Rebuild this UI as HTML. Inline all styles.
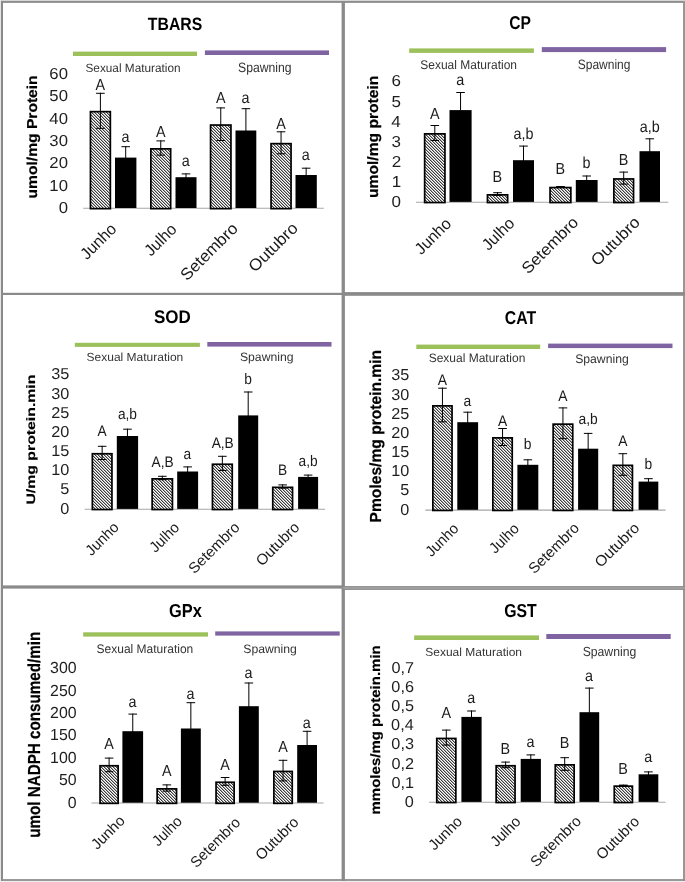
<!DOCTYPE html><html><head><meta charset="utf-8"><title>Oxidative stress biomarkers</title><style>html,body{margin:0;padding:0;background:#fff;width:685px;height:882px;overflow:hidden}text{font-family:"Liberation Sans",sans-serif;text-rendering:geometricPrecision}</style></head><body><svg width="685" height="882" viewBox="0 0 685 882" style="will-change:transform;display:block;font-family:'Liberation Sans', sans-serif"><defs><pattern id="hatch" patternUnits="userSpaceOnUse" x="0" y="0" width="3" height="3"><rect x="0" y="0" width="1" height="1" fill="#3c3c3c"/><rect x="1" y="0" width="1" height="1" fill="#ababab"/><rect x="2" y="0" width="1" height="1" fill="#ffffff"/><rect x="0" y="1" width="1" height="1" fill="#ffffff"/><rect x="1" y="1" width="1" height="1" fill="#3c3c3c"/><rect x="2" y="1" width="1" height="1" fill="#ababab"/><rect x="0" y="2" width="1" height="1" fill="#ababab"/><rect x="1" y="2" width="1" height="1" fill="#ffffff"/><rect x="2" y="2" width="1" height="1" fill="#3c3c3c"/></pattern></defs><rect x="0" y="0" width="685" height="882" fill="#ffffff"/>
<rect x="0" y="0" width="685" height="1" fill="#d6d6d6"/>
<rect x="0" y="0" width="1" height="882" fill="#e6e6e6"/>
<rect x="0" y="881" width="685" height="1" fill="#eeeeee"/>
<rect x="1" y="1" width="684" height="1.9" fill="#8e8e8e"/>
<rect x="1" y="1" width="2" height="880" fill="#8a8a8a"/>
<rect x="683" y="1" width="2" height="880" fill="#979797"/>
<rect x="1" y="879.1" width="684" height="1.8" fill="#8e8e8e"/>
<rect x="341.6" y="1" width="3.3" height="880" fill="#8a8a8a"/>
<rect x="1" y="292.8" width="342" height="2.2" fill="#8a8a8a"/>
<rect x="1" y="585.4" width="342" height="3.2" fill="#8a8a8a"/>
<rect x="343" y="292.1" width="342" height="3.7" fill="#8a8a8a"/>
<rect x="343" y="586.1" width="342" height="3.8" fill="#8a8a8a"/>
<rect x="343" y="587.5" width="342" height="1" fill="#b4b4b4"/>
<text transform="matrix(0.79 0 0 0.89 147.84 29.72)" font-size="20" font-weight="bold" fill="#000">TBARS</text>
<rect x="73" y="51.6" width="124" height="4.4" fill="#9cc05a"/>
<rect x="204.9" y="50.4" width="124.1" height="4.6" fill="#8064a2"/>
<text transform="matrix(0.59 0 0 0.6 85.46 71.7)" font-size="20" font-weight="normal" fill="#333333">Sexual Maturation</text>
<text transform="matrix(0.61 0 0 0.68 238.05 72.4)" font-size="20" font-weight="normal" fill="#333333">Spawning</text>
<text stroke="#000" stroke-width="0.25" transform="matrix(0 -0.78 0.72 0 36.51 198.43)" font-size="20" font-weight="bold" fill="#000">umol/mg Protein</text>
<text transform="matrix(1.05 0 0 1 58.63 213.11)" font-size="15.92" font-weight="normal" fill="#1e1e1e">0</text>
<text transform="matrix(1.05 0 0 1 49.37 190.74)" font-size="15.92" font-weight="normal" fill="#1e1e1e">10</text>
<text transform="matrix(1.05 0 0 1 49.37 168.37)" font-size="15.92" font-weight="normal" fill="#1e1e1e">20</text>
<text transform="matrix(1.05 0 0 1 49.37 146)" font-size="15.92" font-weight="normal" fill="#1e1e1e">30</text>
<text transform="matrix(1.05 0 0 1 49.37 123.63)" font-size="15.92" font-weight="normal" fill="#1e1e1e">40</text>
<text transform="matrix(1.05 0 0 1 49.37 101.26)" font-size="15.92" font-weight="normal" fill="#1e1e1e">50</text>
<text transform="matrix(1.05 0 0 1 49.37 78.89)" font-size="15.92" font-weight="normal" fill="#1e1e1e">60</text>
<line x1="83.3" y1="208.3" x2="323.8" y2="208.3" stroke="#a6a6a6" stroke-width="1.1"/>
<rect x="90.45" y="111.65" width="19.9" height="97" fill="url(#hatch)" stroke="#000" stroke-width="1.7"/>
<path d="M100.4 92.8V128.8M96.1 93.3H104.7M96.1 128.3H104.7" stroke="#000" stroke-width="1" fill="none"/>
<text transform="matrix(0.9 0 0 1 95.59 89.8)" font-size="15.94" font-weight="normal" fill="#1a1a1a">A</text>
<rect x="115" y="157.6" width="21.4" height="50.4" fill="#000"/>
<path d="M125.7 146.2V169M121.4 146.7H130M121.4 168.5H130" stroke="#000" stroke-width="1" fill="none"/>
<text transform="matrix(0.9 0 0 1 121.4 142.2)" font-size="15.94" font-weight="normal" fill="#1a1a1a">a</text>
<rect x="150.85" y="148.85" width="19.8" height="59.8" fill="url(#hatch)" stroke="#000" stroke-width="1.7"/>
<path d="M160.75 140.4V155.6M156.45 140.9H165.05M156.45 155.1H165.05" stroke="#000" stroke-width="1" fill="none"/>
<text transform="matrix(0.9 0 0 1 155.94 137)" font-size="15.94" font-weight="normal" fill="#1a1a1a">A</text>
<rect x="175.5" y="177.2" width="21" height="30.8" fill="#000"/>
<path d="M186 173.4V181M181.7 173.9H190.3M181.7 180.5H190.3" stroke="#000" stroke-width="1" fill="none"/>
<text transform="matrix(0.9 0 0 1 181.7 165.5)" font-size="15.94" font-weight="normal" fill="#1a1a1a">a</text>
<rect x="210.55" y="125.05" width="20.4" height="83.6" fill="url(#hatch)" stroke="#000" stroke-width="1.7"/>
<path d="M220.75 107.4V141M216.45 107.9H225.05M216.45 140.5H225.05" stroke="#000" stroke-width="1" fill="none"/>
<text transform="matrix(0.9 0 0 1 215.94 102.7)" font-size="15.94" font-weight="normal" fill="#1a1a1a">A</text>
<rect x="235.5" y="130.5" width="20.8" height="77.5" fill="#000"/>
<path d="M245.9 108.2V152.8M241.6 108.7H250.2M241.6 152.3H250.2" stroke="#000" stroke-width="1" fill="none"/>
<text transform="matrix(0.9 0 0 1 241.6 102.7)" font-size="15.94" font-weight="normal" fill="#1a1a1a">a</text>
<rect x="271.05" y="143.65" width="20" height="65" fill="url(#hatch)" stroke="#000" stroke-width="1.7"/>
<path d="M281.05 131.3V154.3M276.75 131.8H285.35M276.75 153.8H285.35" stroke="#000" stroke-width="1" fill="none"/>
<text transform="matrix(0.9 0 0 1 276.24 128.9)" font-size="15.94" font-weight="normal" fill="#1a1a1a">A</text>
<rect x="295.5" y="175" width="21.3" height="33" fill="#000"/>
<path d="M306.15 167.7V182.3M301.85 168.2H310.45M301.85 181.8H310.45" stroke="#000" stroke-width="1" fill="none"/>
<text transform="matrix(0.9 0 0 1 301.85 160)" font-size="15.94" font-weight="normal" fill="#1a1a1a">a</text>
<text transform="matrix(0.68 -0.68 0.71 0.71 117.4 230)" font-size="16.4" text-anchor="end" fill="#1a1a1a">Junho</text>
<text transform="matrix(0.68 -0.68 0.71 0.71 177.6 230.4)" font-size="16.4" text-anchor="end" fill="#1a1a1a">Julho</text>
<text transform="matrix(0.73 -0.73 0.71 0.71 238.8 229.6)" font-size="16.4" text-anchor="end" fill="#1a1a1a">Setembro</text>
<text transform="matrix(0.74 -0.74 0.71 0.71 298.9 229.2)" font-size="16.4" text-anchor="end" fill="#1a1a1a">Outubro</text>
<text transform="matrix(0.78 0 0 0.93 509.28 29.41)" font-size="20" font-weight="bold" fill="#000">CP</text>
<rect x="409.2" y="48.4" width="124.7" height="4.5" fill="#9cc05a"/>
<rect x="541.8" y="47.1" width="124.3" height="5" fill="#8064a2"/>
<text transform="matrix(0.6 0 0 0.63 420.26 69.3)" font-size="20" font-weight="normal" fill="#333333">Sexual Maturation</text>
<text transform="matrix(0.6 0 0 0.68 577.76 69.3)" font-size="20" font-weight="normal" fill="#333333">Spawning</text>
<text stroke="#000" stroke-width="0.25" transform="matrix(0 -0.78 0.75 0 377.57 197.94)" font-size="20" font-weight="bold" fill="#000">umol/mg protein</text>
<text transform="matrix(1.07 0 0 1 391.47 207.45)" font-size="15.92" font-weight="normal" fill="#1e1e1e">0</text>
<text transform="matrix(1.07 0 0 1 391.64 187.29)" font-size="15.92" font-weight="normal" fill="#1e1e1e">1</text>
<text transform="matrix(1.07 0 0 1 391.64 167.13)" font-size="15.92" font-weight="normal" fill="#1e1e1e">2</text>
<text transform="matrix(1.07 0 0 1 391.55 146.97)" font-size="15.92" font-weight="normal" fill="#1e1e1e">3</text>
<text transform="matrix(1.07 0 0 1 391.3 126.81)" font-size="15.92" font-weight="normal" fill="#1e1e1e">4</text>
<text transform="matrix(1.07 0 0 1 391.55 106.65)" font-size="15.92" font-weight="normal" fill="#1e1e1e">5</text>
<text transform="matrix(1.07 0 0 1 391.55 86.49)" font-size="15.92" font-weight="normal" fill="#1e1e1e">6</text>
<line x1="415.9" y1="202.2" x2="668.3" y2="202.2" stroke="#a6a6a6" stroke-width="1.1"/>
<rect x="424.65" y="133.85" width="20.3" height="68.7" fill="url(#hatch)" stroke="#000" stroke-width="1.7"/>
<path d="M434.8 125V141M430.5 125.5H439.1M430.5 140.5H439.1" stroke="#000" stroke-width="1" fill="none"/>
<text transform="matrix(0.9 0 0 1 429.99 118.9)" font-size="15.94" font-weight="normal" fill="#1a1a1a">A</text>
<rect x="449.5" y="110.1" width="22.1" height="91.8" fill="#000"/>
<path d="M460.55 92V128.2M456.25 92.5H464.85M456.25 127.7H464.85" stroke="#000" stroke-width="1" fill="none"/>
<text transform="matrix(0.9 0 0 1 456.25 84.6)" font-size="15.94" font-weight="normal" fill="#1a1a1a">a</text>
<rect x="487.45" y="194.85" width="20.2" height="7.7" fill="url(#hatch)" stroke="#000" stroke-width="1.7"/>
<path d="M497.55 192.2V195.8M493.25 192.7H501.85M493.25 195.3H501.85" stroke="#000" stroke-width="1" fill="none"/>
<text transform="matrix(0.9 0 0 1 492.56 181.6)" font-size="15.94" font-weight="normal" fill="#1a1a1a">B</text>
<rect x="513" y="160.2" width="21" height="41.7" fill="#000"/>
<path d="M523.5 145.6V174.8M519.2 146.1H527.8M519.2 174.3H527.8" stroke="#000" stroke-width="1" fill="none"/>
<text transform="matrix(0.9 0 0 1 513.54 139)" font-size="15.94" font-weight="normal" fill="#1a1a1a">a,b</text>
<rect x="550.05" y="187.55" width="20.8" height="15" fill="url(#hatch)" stroke="#000" stroke-width="1.7"/>
<path d="M560.45 186.1V187.3M556.15 186.6H564.75M556.15 186.8H564.75" stroke="#000" stroke-width="1" fill="none"/>
<text transform="matrix(0.9 0 0 1 555.46 174.4)" font-size="15.94" font-weight="normal" fill="#1a1a1a">B</text>
<rect x="575.8" y="180" width="21.8" height="21.9" fill="#000"/>
<path d="M586.7 175.5V184.5M582.4 176H591M582.4 184H591" stroke="#000" stroke-width="1" fill="none"/>
<text transform="matrix(0.9 0 0 1 582.58 167.9)" font-size="15.94" font-weight="normal" fill="#1a1a1a">b</text>
<rect x="613.85" y="178.95" width="19.7" height="23.6" fill="url(#hatch)" stroke="#000" stroke-width="1.7"/>
<path d="M623.7 171.6V184.6M619.4 172.1H628M619.4 184.1H628" stroke="#000" stroke-width="1" fill="none"/>
<text transform="matrix(0.9 0 0 1 618.71 164.6)" font-size="15.94" font-weight="normal" fill="#1a1a1a">B</text>
<rect x="639.5" y="151.2" width="20.5" height="50.7" fill="#000"/>
<path d="M649.75 138.3V164.1M645.45 138.8H654.05M645.45 163.6H654.05" stroke="#000" stroke-width="1" fill="none"/>
<text transform="matrix(0.9 0 0 1 639.79 131.5)" font-size="15.94" font-weight="normal" fill="#1a1a1a">a,b</text>
<text transform="matrix(0.7 -0.7 0.71 0.71 452.2 224.6)" font-size="16.2" text-anchor="end" fill="#1a1a1a">Junho</text>
<text transform="matrix(0.7 -0.7 0.71 0.71 515.5 224.2)" font-size="16.2" text-anchor="end" fill="#1a1a1a">Julho</text>
<text transform="matrix(0.73 -0.73 0.71 0.71 579.4 223.4)" font-size="16.2" text-anchor="end" fill="#1a1a1a">Setembro</text>
<text transform="matrix(0.74 -0.74 0.71 0.71 640.8 223.4)" font-size="16.2" text-anchor="end" fill="#1a1a1a">Outubro</text>
<text transform="matrix(0.85 0 0 0.91 153.98 323.02)" font-size="20" font-weight="bold" fill="#000">SOD</text>
<rect x="74.8" y="342.8" width="125.1" height="4.1" fill="#9cc05a"/>
<rect x="207.3" y="342" width="124.2" height="4.6" fill="#8064a2"/>
<text transform="matrix(0.6 0 0 0.59 86.56 361)" font-size="20" font-weight="normal" fill="#333333">Sexual Maturation</text>
<text transform="matrix(0.61 0 0 0.61 239.95 360.8)" font-size="20" font-weight="normal" fill="#333333">Spawning</text>
<text stroke="#000" stroke-width="0.25" transform="matrix(0 -0.79 0.61 0 34.79 504.55)" font-size="20" font-weight="bold" fill="#000">U/mg protein.min</text>
<text transform="matrix(1.03 0 0 1 60.17 513.53)" font-size="15.77" font-weight="normal" fill="#1e1e1e">0</text>
<text transform="matrix(1.03 0 0 1 60.25 494.36)" font-size="15.77" font-weight="normal" fill="#1e1e1e">5</text>
<text transform="matrix(1.03 0 0 1 51.15 475.19)" font-size="15.77" font-weight="normal" fill="#1e1e1e">10</text>
<text transform="matrix(1.03 0 0 1 51.23 456.02)" font-size="15.77" font-weight="normal" fill="#1e1e1e">15</text>
<text transform="matrix(1.03 0 0 1 51.15 436.85)" font-size="15.77" font-weight="normal" fill="#1e1e1e">20</text>
<text transform="matrix(1.03 0 0 1 51.23 417.68)" font-size="15.77" font-weight="normal" fill="#1e1e1e">25</text>
<text transform="matrix(1.03 0 0 1 51.15 398.51)" font-size="15.77" font-weight="normal" fill="#1e1e1e">30</text>
<text transform="matrix(1.03 0 0 1 51.23 379.34)" font-size="15.77" font-weight="normal" fill="#1e1e1e">35</text>
<line x1="84.7" y1="509.2" x2="325.1" y2="509.2" stroke="#a6a6a6" stroke-width="1.1"/>
<rect x="92.35" y="453.75" width="19.6" height="55.8" fill="url(#hatch)" stroke="#000" stroke-width="1.7"/>
<path d="M102.15 445.8V460M97.85 446.3H106.45M97.85 459.5H106.45" stroke="#000" stroke-width="1" fill="none"/>
<text transform="matrix(0.9 0 0 1 97.56 436.4)" font-size="15.22" font-weight="normal" fill="#1a1a1a">A</text>
<rect x="116.8" y="436" width="21.3" height="72.9" fill="#000"/>
<path d="M127.45 428.7V443.3M123.15 429.2H131.75M123.15 442.8H131.75" stroke="#000" stroke-width="1" fill="none"/>
<text transform="matrix(0.9 0 0 1 117.94 419.3)" font-size="15.22" font-weight="normal" fill="#1a1a1a">a,b</text>
<rect x="152.15" y="478.85" width="20.3" height="30.7" fill="url(#hatch)" stroke="#000" stroke-width="1.7"/>
<path d="M162.3 475.8V480.2M158 476.3H166.6M158 479.7H166.6" stroke="#000" stroke-width="1" fill="none"/>
<text transform="matrix(0.9 0 0 1 151.62 466.9)" font-size="15.22" font-weight="normal" fill="#1a1a1a">A,B</text>
<rect x="177.2" y="471.5" width="20.9" height="37.4" fill="#000"/>
<path d="M187.65 466.4V476.6M183.35 466.9H191.95M183.35 476.1H191.95" stroke="#000" stroke-width="1" fill="none"/>
<text transform="matrix(0.9 0 0 1 183.54 458.8)" font-size="15.22" font-weight="normal" fill="#1a1a1a">a</text>
<rect x="212.45" y="464.25" width="19.8" height="45.3" fill="url(#hatch)" stroke="#000" stroke-width="1.7"/>
<path d="M222.35 455.8V471M218.05 456.3H226.65M218.05 470.5H226.65" stroke="#000" stroke-width="1" fill="none"/>
<text transform="matrix(0.9 0 0 1 211.67 448.1)" font-size="15.22" font-weight="normal" fill="#1a1a1a">A,B</text>
<rect x="238.2" y="415.4" width="20" height="93.5" fill="#000"/>
<path d="M248.2 391.5V439.3M243.9 392H252.5M243.9 438.8H252.5" stroke="#000" stroke-width="1" fill="none"/>
<text transform="matrix(0.9 0 0 1 244.26 384.3)" font-size="15.22" font-weight="normal" fill="#1a1a1a">b</text>
<rect x="272.75" y="487.35" width="19.8" height="22.2" fill="url(#hatch)" stroke="#000" stroke-width="1.7"/>
<path d="M282.65 484.4V488.6M278.35 484.9H286.95M278.35 488.1H286.95" stroke="#000" stroke-width="1" fill="none"/>
<text transform="matrix(0.9 0 0 1 277.89 474.6)" font-size="15.22" font-weight="normal" fill="#1a1a1a">B</text>
<rect x="298.1" y="476.9" width="20" height="32" fill="#000"/>
<path d="M308.1 474.6V479.2M303.8 475.1H312.4M303.8 478.7H312.4" stroke="#000" stroke-width="1" fill="none"/>
<text transform="matrix(0.9 0 0 1 298.59 465.6)" font-size="15.22" font-weight="normal" fill="#1a1a1a">a,b</text>
<text transform="matrix(0.69 -0.69 0.71 0.71 119.8 528.2)" font-size="15" text-anchor="end" fill="#1a1a1a">Junho</text>
<text transform="matrix(0.69 -0.69 0.71 0.71 180.2 528.6)" font-size="15" text-anchor="end" fill="#1a1a1a">Julho</text>
<text transform="matrix(0.71 -0.71 0.71 0.71 240.6 528.2)" font-size="15" text-anchor="end" fill="#1a1a1a">Setembro</text>
<text transform="matrix(0.71 -0.71 0.71 0.71 300.4 528.2)" font-size="15" text-anchor="end" fill="#1a1a1a">Outubro</text>
<text transform="matrix(0.79 0 0 0.93 504.77 323.91)" font-size="20" font-weight="bold" fill="#000">CAT</text>
<rect x="416.3" y="344.6" width="123.9" height="4.4" fill="#9cc05a"/>
<rect x="548.1" y="343.6" width="124.4" height="4.5" fill="#8064a2"/>
<text transform="matrix(0.6 0 0 0.61 428.66 362.3)" font-size="20" font-weight="normal" fill="#333333">Sexual Maturation</text>
<text transform="matrix(0.61 0 0 0.62 575.15 362.6)" font-size="20" font-weight="normal" fill="#333333">Spawning</text>
<text stroke="#000" stroke-width="0.25" transform="matrix(0 -0.78 0.8 0 380.57 522.41)" font-size="20" font-weight="bold" fill="#000">Pmoles/mg protein.min</text>
<text transform="matrix(1.02 0 0 1 400.17 514.51)" font-size="15.92" font-weight="normal" fill="#1e1e1e">0</text>
<text transform="matrix(1.02 0 0 1 400.25 495.35)" font-size="15.92" font-weight="normal" fill="#1e1e1e">5</text>
<text transform="matrix(1.02 0 0 1 391.15 476.19)" font-size="15.92" font-weight="normal" fill="#1e1e1e">10</text>
<text transform="matrix(1.02 0 0 1 391.23 457.03)" font-size="15.92" font-weight="normal" fill="#1e1e1e">15</text>
<text transform="matrix(1.02 0 0 1 391.15 437.87)" font-size="15.92" font-weight="normal" fill="#1e1e1e">20</text>
<text transform="matrix(1.02 0 0 1 391.23 418.71)" font-size="15.92" font-weight="normal" fill="#1e1e1e">25</text>
<text transform="matrix(1.02 0 0 1 391.15 399.55)" font-size="15.92" font-weight="normal" fill="#1e1e1e">30</text>
<text transform="matrix(1.02 0 0 1 391.23 380.39)" font-size="15.92" font-weight="normal" fill="#1e1e1e">35</text>
<line x1="425.3" y1="510.1" x2="665.6" y2="510.1" stroke="#a6a6a6" stroke-width="1.1"/>
<rect x="432.85" y="405.85" width="19.2" height="104.6" fill="url(#hatch)" stroke="#000" stroke-width="1.7"/>
<path d="M442.45 387.7V422.3M438.15 388.2H446.75M438.15 421.8H446.75" stroke="#000" stroke-width="1" fill="none"/>
<text transform="matrix(0.9 0 0 1 437.82 384.5)" font-size="15.36" font-weight="normal" fill="#1a1a1a">A</text>
<rect x="457.3" y="422.2" width="20.8" height="87.6" fill="#000"/>
<path d="M467.7 411.7V432.7M463.4 412.2H472M463.4 432.2H472" stroke="#000" stroke-width="1" fill="none"/>
<text transform="matrix(0.9 0 0 1 463.55 406.2)" font-size="15.36" font-weight="normal" fill="#1a1a1a">a</text>
<rect x="492.85" y="437.85" width="19.4" height="72.6" fill="url(#hatch)" stroke="#000" stroke-width="1.7"/>
<path d="M502.55 428V446M498.25 428.5H506.85M498.25 445.5H506.85" stroke="#000" stroke-width="1" fill="none"/>
<text transform="matrix(0.9 0 0 1 497.92 426.2)" font-size="15.36" font-weight="normal" fill="#1a1a1a">A</text>
<rect x="517.4" y="464.8" width="20.9" height="45" fill="#000"/>
<path d="M527.85 459.3V470.3M523.55 459.8H532.15M523.55 469.8H532.15" stroke="#000" stroke-width="1" fill="none"/>
<text transform="matrix(0.9 0 0 1 523.87 449.2)" font-size="15.36" font-weight="normal" fill="#1a1a1a">b</text>
<rect x="553.15" y="424.15" width="19.6" height="86.3" fill="url(#hatch)" stroke="#000" stroke-width="1.7"/>
<path d="M562.95 407.4V439.2M558.65 407.9H567.25M558.65 438.7H567.25" stroke="#000" stroke-width="1" fill="none"/>
<text transform="matrix(0.9 0 0 1 558.32 401.4)" font-size="15.36" font-weight="normal" fill="#1a1a1a">A</text>
<rect x="578.1" y="448.7" width="20.1" height="61.1" fill="#000"/>
<path d="M588.15 432.9V464.5M583.85 433.4H592.45M583.85 464H592.45" stroke="#000" stroke-width="1" fill="none"/>
<text transform="matrix(0.9 0 0 1 578.55 424.1)" font-size="15.36" font-weight="normal" fill="#1a1a1a">a,b</text>
<rect x="613.25" y="465.35" width="19.2" height="45.1" fill="url(#hatch)" stroke="#000" stroke-width="1.7"/>
<path d="M622.85 453.2V475.8M618.55 453.7H627.15M618.55 475.3H627.15" stroke="#000" stroke-width="1" fill="none"/>
<text transform="matrix(0.9 0 0 1 618.22 446.1)" font-size="15.36" font-weight="normal" fill="#1a1a1a">A</text>
<rect x="638.6" y="481.6" width="19.7" height="28.2" fill="#000"/>
<path d="M648.45 478.2V485M644.15 478.7H652.75M644.15 484.5H652.75" stroke="#000" stroke-width="1" fill="none"/>
<text transform="matrix(0.9 0 0 1 644.48 469.4)" font-size="15.36" font-weight="normal" fill="#1a1a1a">b</text>
<text transform="matrix(0.69 -0.69 0.71 0.71 459.6 529.4)" font-size="15" text-anchor="end" fill="#1a1a1a">Junho</text>
<text transform="matrix(0.69 -0.69 0.71 0.71 520 529.6)" font-size="15" text-anchor="end" fill="#1a1a1a">Julho</text>
<text transform="matrix(0.7 -0.7 0.71 0.71 580.1 529)" font-size="15" text-anchor="end" fill="#1a1a1a">Setembro</text>
<text transform="matrix(0.73 -0.73 0.71 0.71 640.4 528.8)" font-size="15" text-anchor="end" fill="#1a1a1a">Outubro</text>
<text transform="matrix(0.82 0 0 0.94 168.95 616.81)" font-size="20" font-weight="bold" fill="#000">GPx</text>
<rect x="83.2" y="632.3" width="124.8" height="4.3" fill="#9cc05a"/>
<rect x="215.2" y="631.4" width="124.5" height="4.2" fill="#8064a2"/>
<text transform="matrix(0.6 0 0 0.62 96.56 653)" font-size="20" font-weight="normal" fill="#333333">Sexual Maturation</text>
<text transform="matrix(0.61 0 0 0.61 243.26 652.9)" font-size="20" font-weight="normal" fill="#333333">Spawning</text>
<text stroke="#000" stroke-width="0.25" transform="matrix(0 -0.76 0.87 0 40.36 837.81)" font-size="20" font-weight="bold" fill="#000">umol NADPH consumed/min</text>
<text transform="matrix(0.99 0 0 1 67.73 807.59)" font-size="16.06" font-weight="normal" fill="#1e1e1e">0</text>
<text transform="matrix(0.99 0 0 1 58.89 785.19)" font-size="16.06" font-weight="normal" fill="#1e1e1e">50</text>
<text transform="matrix(0.99 0 0 1 50.04 762.79)" font-size="16.06" font-weight="normal" fill="#1e1e1e">100</text>
<text transform="matrix(0.99 0 0 1 50.04 740.39)" font-size="16.06" font-weight="normal" fill="#1e1e1e">150</text>
<text transform="matrix(0.99 0 0 1 50.04 717.99)" font-size="16.06" font-weight="normal" fill="#1e1e1e">200</text>
<text transform="matrix(0.99 0 0 1 50.04 695.59)" font-size="16.06" font-weight="normal" fill="#1e1e1e">250</text>
<text transform="matrix(0.99 0 0 1 50.04 673.19)" font-size="16.06" font-weight="normal" fill="#1e1e1e">300</text>
<line x1="91.4" y1="803" x2="323.6" y2="803" stroke="#a6a6a6" stroke-width="1.1"/>
<rect x="100.05" y="765.75" width="18.1" height="37.6" fill="url(#hatch)" stroke="#000" stroke-width="1.7"/>
<path d="M109.1 757.6V772.2M104.8 758.1H113.4M104.8 771.7H113.4" stroke="#000" stroke-width="1" fill="none"/>
<text transform="matrix(0.9 0 0 1 104.29 749.2)" font-size="15.94" font-weight="normal" fill="#1a1a1a">A</text>
<rect x="122.4" y="731.2" width="20.7" height="71.5" fill="#000"/>
<path d="M132.75 713.6V748.8M128.45 714.1H137.05M128.45 748.3H137.05" stroke="#000" stroke-width="1" fill="none"/>
<text transform="matrix(0.9 0 0 1 128.45 707.1)" font-size="15.94" font-weight="normal" fill="#1a1a1a">a</text>
<rect x="157.15" y="788.85" width="19.4" height="14.5" fill="url(#hatch)" stroke="#000" stroke-width="1.7"/>
<path d="M166.85 784.4V791.6M162.55 784.9H171.15M162.55 791.1H171.15" stroke="#000" stroke-width="1" fill="none"/>
<text transform="matrix(0.9 0 0 1 162.04 776.3)" font-size="15.94" font-weight="normal" fill="#1a1a1a">A</text>
<rect x="180.9" y="728.5" width="19.9" height="74.2" fill="#000"/>
<path d="M190.85 702.2V754.8M186.55 702.7H195.15M186.55 754.3H195.15" stroke="#000" stroke-width="1" fill="none"/>
<text transform="matrix(0.9 0 0 1 186.55 698.7)" font-size="15.94" font-weight="normal" fill="#1a1a1a">a</text>
<rect x="216.05" y="782.25" width="18.1" height="21.1" fill="url(#hatch)" stroke="#000" stroke-width="1.7"/>
<path d="M225.1 777V785.8M220.8 777.5H229.4M220.8 785.3H229.4" stroke="#000" stroke-width="1" fill="none"/>
<text transform="matrix(0.9 0 0 1 220.29 769.5)" font-size="15.94" font-weight="normal" fill="#1a1a1a">A</text>
<rect x="238.9" y="706.2" width="19.9" height="96.5" fill="#000"/>
<path d="M248.85 682.5V729.9M244.55 683H253.15M244.55 729.4H253.15" stroke="#000" stroke-width="1" fill="none"/>
<text transform="matrix(0.9 0 0 1 244.55 677.6)" font-size="15.94" font-weight="normal" fill="#1a1a1a">a</text>
<rect x="273.85" y="771.45" width="18.4" height="31.9" fill="url(#hatch)" stroke="#000" stroke-width="1.7"/>
<path d="M283.05 759.8V781.4M278.75 760.3H287.35M278.75 780.9H287.35" stroke="#000" stroke-width="1" fill="none"/>
<text transform="matrix(0.9 0 0 1 278.24 751.5)" font-size="15.94" font-weight="normal" fill="#1a1a1a">A</text>
<rect x="297.2" y="745" width="19.8" height="57.7" fill="#000"/>
<path d="M307.1 730.8V759.2M302.8 731.3H311.4M302.8 758.7H311.4" stroke="#000" stroke-width="1" fill="none"/>
<text transform="matrix(0.9 0 0 1 302.8 728.4)" font-size="15.94" font-weight="normal" fill="#1a1a1a">a</text>
<text transform="matrix(0.7 -0.7 0.71 0.71 125.8 821.7)" font-size="15" text-anchor="end" fill="#1a1a1a">Junho</text>
<text transform="matrix(0.69 -0.69 0.71 0.71 183 822.2)" font-size="15" text-anchor="end" fill="#1a1a1a">Julho</text>
<text transform="matrix(0.69 -0.69 0.71 0.71 241.3 823.5)" font-size="15" text-anchor="end" fill="#1a1a1a">Setembro</text>
<text transform="matrix(0.7 -0.7 0.71 0.71 299.5 823.1)" font-size="15" text-anchor="end" fill="#1a1a1a">Outubro</text>
<text transform="matrix(0.79 0 0 0.94 504.17 617.41)" font-size="20" font-weight="bold" fill="#000">GST</text>
<rect x="414.2" y="635.4" width="124.8" height="4.6" fill="#9cc05a"/>
<rect x="546.3" y="634" width="124.4" height="5" fill="#8064a2"/>
<text transform="matrix(0.6 0 0 0.59 425.26 655.7)" font-size="20" font-weight="normal" fill="#333333">Sexual Maturation</text>
<text transform="matrix(0.61 0 0 0.66 582.65 656)" font-size="20" font-weight="normal" fill="#333333">Spawning</text>
<text stroke="#000" stroke-width="0.25" transform="matrix(0 -0.75 0.68 0 380.47 814.47)" font-size="20" font-weight="bold" fill="#000">mmoles/mg protein.min</text>
<text transform="matrix(1.03 0 0 1 404.84 806.92)" font-size="15.77" font-weight="normal" fill="#1e1e1e">0</text>
<text transform="matrix(1.03 0 0 1 391.43 787.73)" font-size="15.77" font-weight="normal" fill="#1e1e1e">0,1</text>
<text transform="matrix(1.03 0 0 1 391.43 768.54)" font-size="15.77" font-weight="normal" fill="#1e1e1e">0,2</text>
<text transform="matrix(1.03 0 0 1 391.35 749.35)" font-size="15.77" font-weight="normal" fill="#1e1e1e">0,3</text>
<text transform="matrix(1.03 0 0 1 391.11 730.16)" font-size="15.77" font-weight="normal" fill="#1e1e1e">0,4</text>
<text transform="matrix(1.03 0 0 1 391.35 710.97)" font-size="15.77" font-weight="normal" fill="#1e1e1e">0,5</text>
<text transform="matrix(1.03 0 0 1 391.35 691.78)" font-size="15.77" font-weight="normal" fill="#1e1e1e">0,6</text>
<text transform="matrix(1.03 0 0 1 391.43 672.59)" font-size="15.77" font-weight="normal" fill="#1e1e1e">0,7</text>
<line x1="429" y1="802.2" x2="665.6" y2="802.2" stroke="#a6a6a6" stroke-width="1.1"/>
<rect x="436.75" y="738.45" width="19.1" height="64.1" fill="url(#hatch)" stroke="#000" stroke-width="1.7"/>
<path d="M446.3 729.6V745.6M442 730.1H450.6M442 745.1H450.6" stroke="#000" stroke-width="1" fill="none"/>
<text transform="matrix(0.9 0 0 1 441.49 717.8)" font-size="15.94" font-weight="normal" fill="#1a1a1a">A</text>
<rect x="461.4" y="716.9" width="20.2" height="85" fill="#000"/>
<path d="M471.5 710.5V723.3M467.2 711H475.8M467.2 722.8H475.8" stroke="#000" stroke-width="1" fill="none"/>
<text transform="matrix(0.9 0 0 1 467.2 702.8)" font-size="15.94" font-weight="normal" fill="#1a1a1a">a</text>
<rect x="496.15" y="765.75" width="18.9" height="36.8" fill="url(#hatch)" stroke="#000" stroke-width="1.7"/>
<path d="M505.6 761.6V768.2M501.3 762.1H509.9M501.3 767.7H509.9" stroke="#000" stroke-width="1" fill="none"/>
<text transform="matrix(0.9 0 0 1 500.61 753.5)" font-size="15.94" font-weight="normal" fill="#1a1a1a">B</text>
<rect x="520.7" y="758.9" width="20.2" height="43" fill="#000"/>
<path d="M530.8 754.4V763.4M526.5 754.9H535.1M526.5 762.9H535.1" stroke="#000" stroke-width="1" fill="none"/>
<text transform="matrix(0.9 0 0 1 526.5 747)" font-size="15.94" font-weight="normal" fill="#1a1a1a">a</text>
<rect x="555.25" y="764.85" width="18.9" height="37.7" fill="url(#hatch)" stroke="#000" stroke-width="1.7"/>
<path d="M564.7 757.2V770.8M560.4 757.7H569M560.4 770.3H569" stroke="#000" stroke-width="1" fill="none"/>
<text transform="matrix(0.9 0 0 1 559.71 747.7)" font-size="15.94" font-weight="normal" fill="#1a1a1a">B</text>
<rect x="579.5" y="712.2" width="19.7" height="89.7" fill="#000"/>
<path d="M589.35 687.6V736.8M585.05 688.1H593.65M585.05 736.3H593.65" stroke="#000" stroke-width="1" fill="none"/>
<text transform="matrix(0.9 0 0 1 585.05 680.7)" font-size="15.94" font-weight="normal" fill="#1a1a1a">a</text>
<rect x="614.25" y="786.15" width="18.2" height="16.4" fill="url(#hatch)" stroke="#000" stroke-width="1.7"/>
<path d="M623.35 784.6V786M619.05 785.1H627.65M619.05 785.5H627.65" stroke="#000" stroke-width="1" fill="none"/>
<text transform="matrix(0.9 0 0 1 618.36 773.9)" font-size="15.94" font-weight="normal" fill="#1a1a1a">B</text>
<rect x="638.6" y="774.3" width="19.7" height="27.6" fill="#000"/>
<path d="M648.45 771.4V777.2M644.15 771.9H652.75M644.15 776.7H652.75" stroke="#000" stroke-width="1" fill="none"/>
<text transform="matrix(0.9 0 0 1 644.15 761.5)" font-size="15.94" font-weight="normal" fill="#1a1a1a">a</text>
<text transform="matrix(0.7 -0.7 0.71 0.71 463.1 822.4)" font-size="15" text-anchor="end" fill="#1a1a1a">Junho</text>
<text transform="matrix(0.7 -0.7 0.71 0.71 521.6 822.5)" font-size="15" text-anchor="end" fill="#1a1a1a">Julho</text>
<text transform="matrix(0.7 -0.7 0.71 0.71 582.1 822.1)" font-size="15" text-anchor="end" fill="#1a1a1a">Setembro</text>
<text transform="matrix(0.7 -0.7 0.71 0.71 640.3 822.5)" font-size="15" text-anchor="end" fill="#1a1a1a">Outubro</text></svg></body></html>
